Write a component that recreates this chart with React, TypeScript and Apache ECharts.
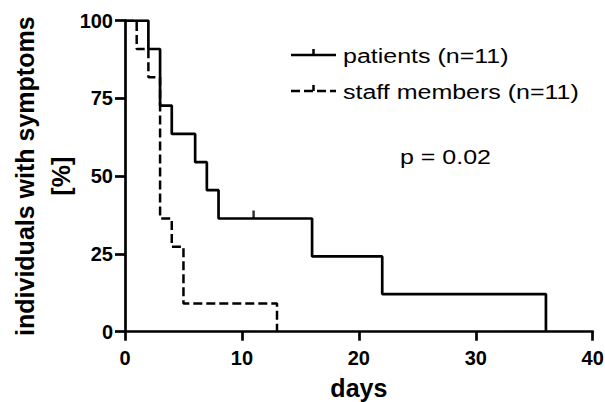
import React, { useEffect, useRef } from "react";
import * as echarts from "echarts";

const patientDays = [0, 2, 3, 4, 6, 7, 8, 16, 22, 36];
const patientPct = [100, 90.9, 72.7, 63.6, 54.5, 45.5, 36.4, 24.2, 12.1, 0];
const patientCensorDays = [11];
const patientCensorPct = [36.4];
const staffDays = [0, 1, 2, 3, 4, 5, 13];
const staffPct = [100, 90.9, 81.8, 36.4, 27.3, 9.1, 0];
const xTicks = [0, 10, 20, 30, 40];
const yTicks = [0, 25, 50, 75, 100];
const legendNames = ["patients (n=11)", "staff members (n=11)"];
const pValueText = "p = 0.02";

const FONT = "'Liberation Sans', Arial, Helvetica, sans-serif";

export default function App() {
  const ref = useRef<HTMLDivElement>(null);
  useEffect(() => {
    if (!ref.current) return;
    const chart = echarts.init(ref.current, null, { renderer: "svg" });
    const zip = (a: number[], b: number[]) => a.map((v, i) => [v, b[i]]);
    const axisLine = { show: true, lineStyle: { color: "#000", width: 2.7 } };
    chart.setOption({
      animation: false,
      backgroundColor: "#fff",
      grid: { left: 125, right: 12.3, top: 20.7, bottom: 70.3, containLabel: false, outerBoundsMode: "none" },
      xAxis: {
        type: "value",
        min: xTicks[0],
        max: xTicks[xTicks.length - 1],
        interval: 10,
        name: "days",
        nameLocation: "middle",
        nameGap: 44,
        nameMoveOverlap: false,
        nameTextStyle: { fontFamily: FONT, fontWeight: "bold", fontSize: 25, color: "#000" },
        axisLine,
        axisTick: { show: true, length: 9, lineStyle: { color: "#000", width: 2.7 } },
        axisLabel: { margin: 16, fontFamily: FONT, fontWeight: "bold", fontSize: 20, color: "#000" },
        splitLine: { show: false },
      },
      yAxis: {
        type: "value",
        min: yTicks[0],
        max: yTicks[yTicks.length - 1],
        interval: 25,
        name: "individuals with symptoms\n[%]",
        nameLocation: "middle",
        nameGap: 46,
        nameRotate: 90,
        nameMoveOverlap: false,
        nameTextStyle: { fontFamily: FONT, fontWeight: "bold", fontSize: 25, lineHeight: 36, color: "#000", align: "center" },
        axisLine,
        axisTick: { show: true, length: 10, lineStyle: { color: "#000", width: 2.7 } },
        axisLabel: { margin: 12, fontFamily: FONT, fontWeight: "bold", fontSize: 20, color: "#000" },
        splitLine: { show: false },
      },
      series: [
        {
          type: "line",
          name: legendNames[1],
          step: "end",
          symbol: "none",
          data: zip(staffDays, staffPct),
          lineStyle: { color: "#000", width: 2.5, type: [9, 4] },
        },
        {
          type: "line",
          name: legendNames[0],
          step: "end",
          symbol: "none",
          data: zip(patientDays, patientPct),
          lineStyle: { color: "#000", width: 2.7 },
        },
        {
          type: "scatter",
          symbol: "rect",
          symbolSize: [2.5, 8],
          symbolOffset: [0, -4],
          itemStyle: { color: "#000" },
          data: zip(patientCensorDays, patientCensorPct),
        },
      ],
      graphic: [
        { type: "line", shape: { x1: 291, y1: 55, x2: 336, y2: 55 }, style: { stroke: "#000", lineWidth: 2.7 } },
        { type: "line", shape: { x1: 313.5, y1: 55, x2: 313.5, y2: 49 }, style: { stroke: "#000", lineWidth: 2.5 } },
        {
          type: "text",
          x: 343,
          y: 56,
          scaleX: 1.25,
          style: { text: legendNames[0], font: `20px ${FONT}`, fill: "#000", textAlign: "left", textVerticalAlign: "middle" },
        },
        { type: "line", shape: { x1: 291, y1: 91, x2: 336, y2: 91 }, style: { stroke: "#000", lineWidth: 2.5, lineDash: [9, 4] } },
        { type: "line", shape: { x1: 313.5, y1: 91, x2: 313.5, y2: 85 }, style: { stroke: "#000", lineWidth: 2.5 } },
        {
          type: "text",
          x: 343,
          y: 92,
          scaleX: 1.25,
          style: { text: legendNames[1], font: `20px ${FONT}`, fill: "#000", textAlign: "left", textVerticalAlign: "middle" },
        },
        {
          type: "text",
          x: 400,
          y: 157,
          scaleX: 1.25,
          style: { text: pValueText, font: `20px ${FONT}`, fill: "#000", textAlign: "left", textVerticalAlign: "middle" },
        },
      ],
    });
    return () => chart.dispose();
  }, []);
  return <div ref={ref} style={{ position: "fixed", left: 0, top: 0, width: 605, height: 402 }} />;
}
